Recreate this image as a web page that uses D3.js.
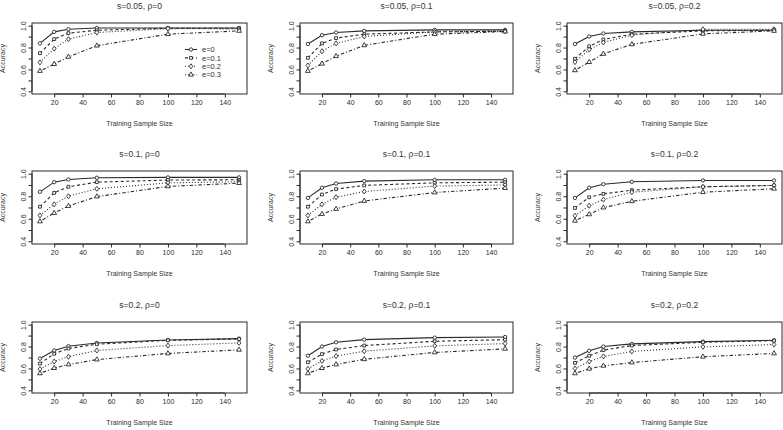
<!DOCTYPE html>
<html><head><meta charset="utf-8">
<script src="https://cdn.jsdelivr.net/npm/d3@7"></script>
<style>body{margin:0;background:#fff}svg{display:block}text{font-family:"Liberation Sans",Arial,sans-serif;fill:#333}</style>
</head><body><svg id="c" width="783" height="430"></svg>
<script>
const sampleSizes = [10, 20, 30, 50, 100, 150];
const seriesNames = ["e=0", "e=0.1", "e=0.2", "e=0.3"];
const panelTitles = ["s=0.05, ρ=0", "s=0.05, ρ=0.1", "s=0.05, ρ=0.2",
                     "s=0.1, ρ=0", "s=0.1, ρ=0.1", "s=0.1, ρ=0.2",
                     "s=0.2, ρ=0", "s=0.2, ρ=0.1", "s=0.2, ρ=0.2"];
const xTicks = [20, 40, 60, 80, 100, 120, 140];
const yTicks = [0.4, 0.5, 0.6, 0.7, 0.8, 0.9, 1.0];
const yTickLabels = ["0.4", "", "0.6", "", "0.8", "", "1.0"];
// accuracy per panel: [e=0, e=0.1, e=0.2, e=0.3]
const p1 = [[0.838,0.943,0.967,0.979,0.979,0.979],[0.748,0.877,0.931,0.958,0.976,0.976],[0.664,0.790,0.877,0.937,0.973,0.970],[0.586,0.649,0.715,0.817,0.922,0.952]];
const p2 = [[0.832,0.913,0.937,0.952,0.961,0.961],[0.706,0.838,0.886,0.922,0.943,0.949],[0.637,0.766,0.838,0.901,0.943,0.949],[0.586,0.652,0.721,0.820,0.922,0.946]];
const p3 = [[0.832,0.901,0.928,0.943,0.958,0.958],[0.697,0.811,0.874,0.922,0.952,0.958],[0.667,0.781,0.847,0.913,0.967,0.967],[0.592,0.667,0.742,0.829,0.925,0.952]];
const p4 = [[0.839,0.925,0.949,0.964,0.967,0.967],[0.707,0.830,0.884,0.925,0.944,0.946],[0.630,0.728,0.800,0.866,0.919,0.928],[0.576,0.651,0.713,0.797,0.887,0.916]];
const p5 = [[0.785,0.875,0.913,0.934,0.946,0.946],[0.707,0.815,0.863,0.896,0.919,0.925],[0.630,0.728,0.791,0.842,0.890,0.900],[0.576,0.642,0.687,0.758,0.833,0.872]];
const p6 = [[0.785,0.875,0.907,0.928,0.940,0.940],[0.696,0.791,0.821,0.854,0.884,0.896],[0.627,0.716,0.770,0.836,0.884,0.896],[0.582,0.639,0.699,0.755,0.836,0.866]];
const p7 = [[0.690,0.764,0.803,0.833,0.860,0.872],[0.645,0.734,0.782,0.821,0.857,0.869],[0.594,0.663,0.707,0.764,0.809,0.833],[0.555,0.603,0.636,0.681,0.737,0.770]];
const p8 = [[0.716,0.800,0.839,0.863,0.881,0.887],[0.657,0.731,0.773,0.809,0.848,0.863],[0.597,0.669,0.713,0.758,0.806,0.827],[0.555,0.603,0.636,0.684,0.746,0.779]];
const p9 = [[0.699,0.761,0.800,0.824,0.845,0.857],[0.651,0.716,0.767,0.809,0.839,0.854],[0.600,0.663,0.710,0.755,0.797,0.818],[0.555,0.597,0.624,0.654,0.707,0.737]];
const panels = [p1,p2,p3,p4,p5,p6,p7,p8,p9];

// layout
const colBox = [[32,247],[300,513],[567,782]];
const rowBox = [[23,94],[171,244],[322,393]];
const dashes = [null, "3,2.5", "1,2", "1,2,3.5,2"];
const ink = "#2a2a2a";
const fs = 7;

const svg = d3.select("#c");
const sym = [d3.symbolCircle, d3.symbolSquare, d3.symbolDiamond, d3.symbolTriangle];
const symSize = [9, 8, 10, 10];

function marker(g, k, x, y) {
  g.append("path").attr("d", d3.symbol(sym[k], symSize[k])())
    .attr("transform", `translate(${x},${y})` + (k===2 ? " scale(1.1,0.85)" : ""))
    .attr("fill", "#fff").attr("stroke", ink).attr("stroke-width", 0.9);
}

panels.forEach((data, i) => {
  const r = Math.floor(i/3), c = i%3;
  const [x0,x1] = colBox[c], [y0,y1] = rowBox[r];
  const x = d3.scaleLinear().domain([4.4,155.6]).range([x0,x1]);
  const y = d3.scaleLinear().domain([0.376,1.024]).range([y1,y0]);
  const g = svg.append("g");
  g.append("rect").attr("x",x0).attr("y",y0).attr("width",x1-x0).attr("height",y1-y0)
    .attr("fill","none").attr("stroke",ink).attr("stroke-width",1);
  // x axis
  const xa = g.append("g").attr("transform",`translate(0,${y1})`)
    .call(d3.axisBottom(x).tickValues(xTicks).tickSize(3.5).tickPadding(3).tickSizeOuter(0));
  xa.select(".domain").attr("d", `M${x(20)},0H${x(140)}`).attr("stroke",ink);
  xa.selectAll("line").attr("stroke",ink);
  xa.selectAll("text").attr("font-size",fs).style("fill",ink);
  // y axis
  const ya = g.append("g").attr("transform",`translate(${x0},0)`)
    .call(d3.axisLeft(y).tickValues(yTicks).tickFormat((d,j)=>yTickLabels[j]).tickSize(3.5).tickSizeOuter(0));
  ya.select(".domain").attr("d", `M0,${y(0.4)}V${y(1.0)}`).attr("stroke",ink);
  ya.selectAll("line").attr("stroke",ink);
  ya.selectAll("text").attr("font-size",fs).style("fill",ink)
    .attr("text-anchor","middle").attr("x",0).attr("y",0).attr("dy","0.32em")
    .attr("transform","translate(-8,0) rotate(-90)");
  // titles
  g.append("text").attr("x",(x0+x1)/2).attr("y",y0-14).attr("text-anchor","middle")
    .attr("font-size",8.5).text(panelTitles[i]);
  g.append("text").attr("x",(x0+x1)/2).attr("y",y1+32).attr("text-anchor","middle")
    .attr("font-size",fs).text("Training Sample Size");
  g.append("text").attr("transform",`translate(${x0-27},${(y0+y1)/2}) rotate(-90)`)
    .attr("text-anchor","middle").attr("font-size",fs).text("Accuracy");
  // series
  const line = d3.line().x((d,j)=>x(sampleSizes[j])).y(d=>y(d));
  data.forEach((vals,k) => {
    g.append("path").attr("d",line(vals)).attr("fill","none").attr("stroke",ink)
      .attr("stroke-width",1.1).attr("stroke-dasharray",dashes[k]);
  });
  data.forEach((vals,k) => {
    vals.forEach((v,j) => marker(g,k,x(sampleSizes[j]),y(v)));
  });
  if (i === 0) {
    const lg = g.append("g");
    seriesNames.forEach((nm,k) => {
      const ly = 49.5 + k*8.4;
      lg.append("line").attr("x1",185).attr("x2",197).attr("y1",ly).attr("y2",ly)
        .attr("stroke",ink).attr("stroke-width",1.1).attr("stroke-dasharray",dashes[k]);
      marker(lg,k,191,ly);
      lg.append("text").attr("x",202).attr("y",ly).attr("dy","0.35em").attr("font-size",7.5).text(nm);
    });
  }
});
</script></body></html>
